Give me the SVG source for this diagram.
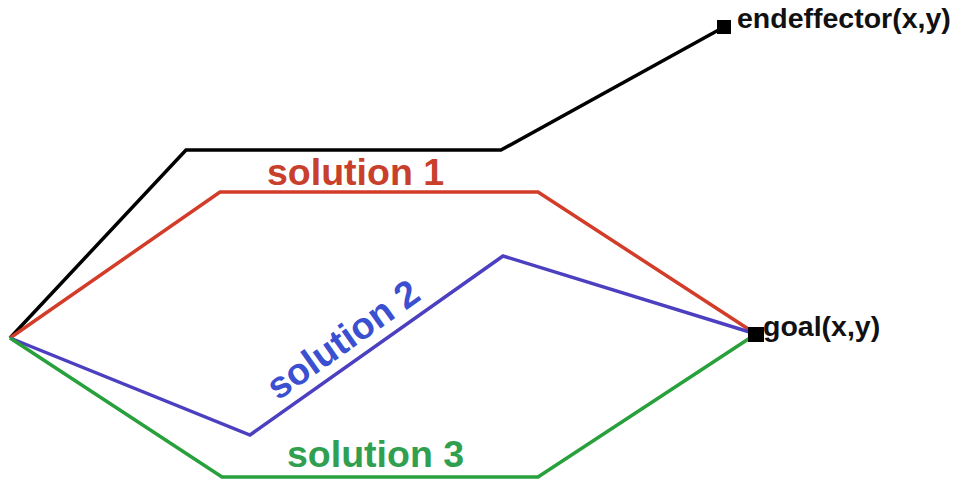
<svg xmlns="http://www.w3.org/2000/svg" width="956" height="481" viewBox="0 0 956 481">
<style>
.ln{fill:none;stroke-width:3.5;stroke-linejoin:miter;stroke-linecap:butt}
.lbl{font-family:"Liberation Sans",Arial,sans-serif;font-weight:bold}
.pt{fill:#000}
</style>
<rect width="956" height="481" fill="#fff"/>
<g id="connectors">
<polyline class="ln" stroke="#000" points="10,338 186,150 501,150 724,27"/>
<polyline class="ln" stroke="#d23c28" points="10,338 220,192 538,192 756,334"/>
<polyline class="ln" stroke="#4c40c0" points="10,338 250,435 503,256 756,334"/>
<polyline class="ln" stroke="#28a03c" points="10,338 222,477 538,477 756,334"/>
</g>
<g id="endeffector">
<rect class="pt" x="717" y="20" width="14" height="14"/>
<text class="lbl" x="737" y="28" font-size="28.5" fill="#111">endeffector(x,y)</text>
</g>
<g id="goal">
<rect class="pt" x="748" y="327" width="16" height="15"/>
<text class="lbl" x="763" y="336" font-size="28.5" fill="#111">goal(x,y)</text>
</g>
<g id="solution1">
<text class="lbl" x="267" y="185" font-size="37.5" fill="#c8402c">solution 1</text>
</g>
<g id="solution2">
<text class="lbl" x="0" y="0" font-size="37.5" fill="#3a50d0" transform="translate(278,401) rotate(-35.3)">solution 2</text>
</g>
<g id="solution3">
<text class="lbl" x="287" y="467" font-size="37.5" fill="#30a050">solution 3</text>
</g>
</svg>
